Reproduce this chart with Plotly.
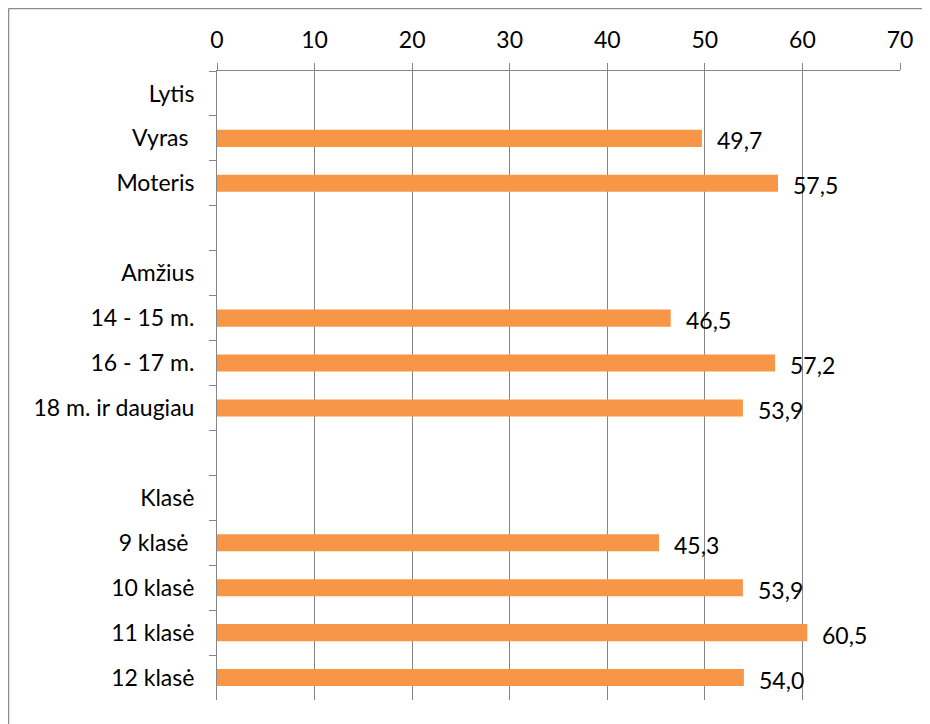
import plotly.graph_objects as go

categories = ["Lytis", "Vyras ", "Moteris", " ", "Amžius", "14 - 15 m.", "16 - 17 m.",
              "18 m. ir daugiau", "  ", "Klasė", "9 klasė ", "10 klasė", "11 klasė", "12 klasė"]
values = [None, 49.7, 57.5, None, None, 46.5, 57.2, 53.9, None, None, 45.3, 53.9, 60.5, 54.0]
x_ticks = [0, 10, 20, 30, 40, 50, 60, 70]

FONT = "Lato, Carlito, Calibri, sans-serif"
GRID = "#868686"

W, H = 922, 716
L, T, R, B = 209, 63, 30, 24
PW, PH = W - L - R, H - T - B

fig = go.Figure()
fig.add_trace(go.Bar(
    x=values, y=categories, orientation="h",
    marker=dict(color="#F79646", line=dict(width=0)),
    width=0.38, hoverinfo="skip",
))

for c, v in zip(categories, values):
    if v is None:
        continue
    fig.add_annotation(
        x=v, y=c, xref="x", yref="y",
        text=f"{v:.1f}".replace(".", ","),
        showarrow=False, xanchor="left", yanchor="middle",
        xshift=13, yshift=-2,
        font=dict(family=FONT, size=23, color="#000000"),
    )

fig.update_layout(
    width=W, height=H,
    margin=dict(l=L, r=R, t=T, b=B),
    paper_bgcolor="#ffffff", plot_bgcolor="#ffffff",
    showlegend=False,
    font=dict(family=FONT, size=23, color="#000000"),
    xaxis=dict(
        side="top", range=[0, 70], tickvals=x_ticks,
        showgrid=True, gridcolor=GRID, gridwidth=1,
        showline=True, linecolor=GRID, linewidth=1,
        ticks="outside", ticklen=7, tickcolor=GRID,
        ticklabelstandoff=6, zeroline=False,
        tickfont=dict(family=FONT, size=23, color="#000000"),
        fixedrange=True, automargin=False,
    ),
    yaxis=dict(
        type="category", categoryorder="array", categoryarray=categories,
        range=[13.5, -0.5],
        showgrid=False, showline=True, linecolor=GRID, linewidth=1,
        ticks="outside", ticklen=7, tickcolor=GRID, tickson="boundaries",
        ticklabelstandoff=17,
        tickfont=dict(family=FONT, size=23, color="#000000"),
        fixedrange=True, automargin=False,
    ),
    shapes=[
        dict(type="line", xref="paper", yref="paper",
             x0=(0.5 - L) / PW, x1=(W - L) / PW,
             y0=1 + (T - 0.5) / PH, y1=1 + (T - 0.5) / PH,
             line=dict(color="#8c8c8c", width=1.5)),
        dict(type="line", xref="paper", yref="paper",
             x0=(0.5 - L) / PW, x1=(0.5 - L) / PW,
             y0=1 + (T - 0.5) / PH, y1=-B / PH,
             line=dict(color="#8c8c8c", width=1.5)),
    ],
)

fig.write_html("out.html")
